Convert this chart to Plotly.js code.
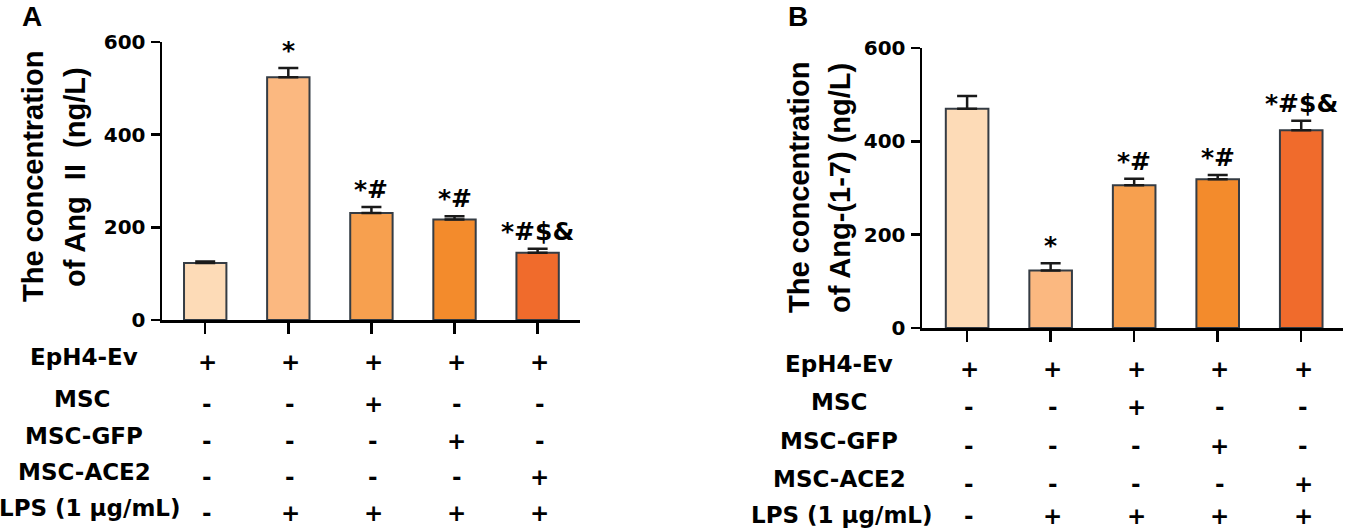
<!DOCTYPE html>
<html>
<head>
<meta charset="utf-8">
<script src="https://cdn.plot.ly/plotly-3.0.1.min.js"></script>
<style>
  html, body { margin: 0; padding: 0; background: #ffffff; }
  #chart { width: 1345px; height: 530px; }
</style>
</head>
<body>
<div id="chart"></div>
<script>
// ---------- DATA ----------
const categories = ['Control', 'LPS', 'LPS+MSC', 'LPS+MSC-GFP', 'LPS+MSC-ACE2'];
const angII = [123, 524, 231, 217, 145];
const angIIErr = [3, 20, 13, 7, 9];
const ang17 = [470, 123, 306, 319, 424];
const ang17Err = [27, 16, 14, 9, 20];
const sigA = ['', '*', '*#', '*#', '*#$&'];
const sigB = ['', '*', '*#', '*#', '*#$&'];
const barColors = ['#FDDBB7', '#FBB880', '#F7A04F', '#F38B2C', '#F06B2C'];
const rowLabels = ['EpH4-Ev', 'MSC', 'MSC-GFP', 'MSC-ACE2', 'LPS (1 μg/mL)'];
const rowEpH4 = ['+', '+', '+', '+', '+'];
const rowMSC = ['-', '-', '+', '-', '-'];
const rowGFP = ['-', '-', '-', '+', '-'];
const rowACE2 = ['-', '-', '-', '-', '+'];
const rowLPS = ['-', '+', '+', '+', '+'];
const yTicks = [0, 200, 400, 600];
const titleA = ['The concentration', 'of Ang\u00a0\u00a0II\u00a0\u00a0(ng/L)'];
const titleB = ['The concentration', 'of Ang-(1-7) (ng/L)'];
const panelLabels = ['A', 'B'];

// ---------- LAYOUT HELPERS ----------
const W = 1345, H = 530;
const px = v => v / W;
const py = v => 1 - v / H;
const HFONT = 'DejaVu Sans, Arial, sans-serif';
const RFONT = 'Liberation Sans, Arial, sans-serif';
const outline = '#353c44';

function barTrace(vals, errs, xa, ya) {
  return {
    type: 'bar', x: categories, y: vals, xaxis: xa, yaxis: ya,
    width: 0.51,
    marker: { color: barColors, line: { color: outline, width: 2 } },
    error_y: { type: 'data', array: errs, symmetric: false, arrayminus: errs.map(() => 0),
               color: '#1a1a1a', thickness: 2.5, width: 10 },
    hoverinfo: 'skip', showlegend: false
  };
}

const traces = [
  barTrace(angII, angIIErr, 'x', 'y'),
  barTrace(ang17, ang17Err, 'x2', 'y2')
];

const annotations = [];
function addSig(sig, vals, errs, xref, yref) {
  sig.forEach((s, i) => {
    if (!s) return;
    annotations.push({ x: categories[i], y: vals[i] + errs[i], xref: xref, yref: yref,
      text: s, showarrow: false, yanchor: 'bottom', yshift: 1,
      font: { family: HFONT, size: 25, color: '#000', weight: 700 } });
  });
}
addSig(sigA, angII, angIIErr, 'x', 'y');
addSig(sigB, ang17, ang17Err, 'x2', 'y2');

function addTable(xref, labelXs, labelYs, symShift) {
  const rows = [rowEpH4, rowMSC, rowGFP, rowACE2, rowLPS];
  rows.forEach((row, r) => {
    annotations.push({ x: px(labelXs[r]), y: py(labelYs[r]), xref: 'paper', yref: 'paper',
      text: rowLabels[r], showarrow: false, xanchor: 'center', yanchor: 'middle', borderpad: 0,
      font: { family: HFONT, size: 23, color: '#000', weight: 700 } });
    const symY = labelYs[r] + symShift;
    const nearEdge = symY + 15 > H;
    row.forEach((s, i) => {
      annotations.push({ x: categories[i], y: nearEdge ? 0 : py(symY), xref: xref, yref: 'paper',
        text: s, showarrow: false, xanchor: 'center', yanchor: nearEdge ? 'bottom' : 'middle',
        xshift: 2, borderpad: 0,
        font: { family: HFONT, size: 23, color: '#000', weight: 700 } });
    });
  });
}
addTable('x', [84, 82, 84, 84, 90], [357, 399, 436, 472, 508], 5);
addTable('x2', [839, 839, 839, 839, 842], [364, 402, 441, 479, 515], 5);

function addTitle(lines, xs, yc) {
  lines.forEach((t, i) => {
    annotations.push({ x: px(xs[i]), y: py(yc), xref: 'paper', yref: 'paper',
      text: t, showarrow: false, textangle: -90, xanchor: 'center', yanchor: 'middle',
      font: { family: RFONT, size: 29, color: '#000', weight: 700 } });
  });
}
addTitle(titleA, [33, 75], 177);
addTitle(titleB, [799, 840], 188);

annotations.push({ x: px(32), y: py(17), xref: 'paper', yref: 'paper', text: panelLabels[0],
  xanchor: 'center', yanchor: 'middle',
  showarrow: false, font: { family: RFONT, size: 28, color: '#000', weight: 700 } });
annotations.push({ x: px(798), y: py(17), xref: 'paper', yref: 'paper', text: panelLabels[1],
  xanchor: 'center', yanchor: 'middle',
  showarrow: false, font: { family: RFONT, size: 28, color: '#000', weight: 700 } });

function xAxis(domain, range, anchor) {
  return { domain: domain, range: range, anchor: anchor, type: 'category',
    showline: true, linecolor: '#000', linewidth: 2.5, ticks: 'outside', ticklen: 11,
    tickwidth: 2.5, tickcolor: '#000', showticklabels: false, showgrid: false, zeroline: false,
    fixedrange: true };
}
function yAxis(domain, anchor) {
  return { domain: domain, range: [0, 600], anchor: anchor, tickvals: yTicks,
    showline: true, linecolor: '#000', linewidth: 2.5, ticks: 'outside', ticklen: 9,
    tickwidth: 2.5, tickcolor: '#000', showgrid: false, zeroline: false, ticklabelstandoff: 1,
    tickfont: { family: HFONT, size: 20, color: '#000', weight: 700 }, fixedrange: true };
}

const layout = {
  width: W, height: H,
  margin: { l: 0, r: 0, t: 0, b: 0 },
  paper_bgcolor: '#fff', plot_bgcolor: '#fff',
  showlegend: false, bargap: 0.49,
  xaxis: xAxis([px(162), px(580)], [-0.52, 4.51], 'y'),
  yaxis: yAxis([py(320), py(42)], 'x'),
  xaxis2: xAxis([px(922), px(1343)], [-0.54, 4.5], 'y2'),
  yaxis2: yAxis([py(328), py(48)], 'x2'),
  annotations: annotations
};

Plotly.newPlot('chart', traces, layout, { displayModeBar: false, staticPlot: true });
</script>
</body>
</html>
